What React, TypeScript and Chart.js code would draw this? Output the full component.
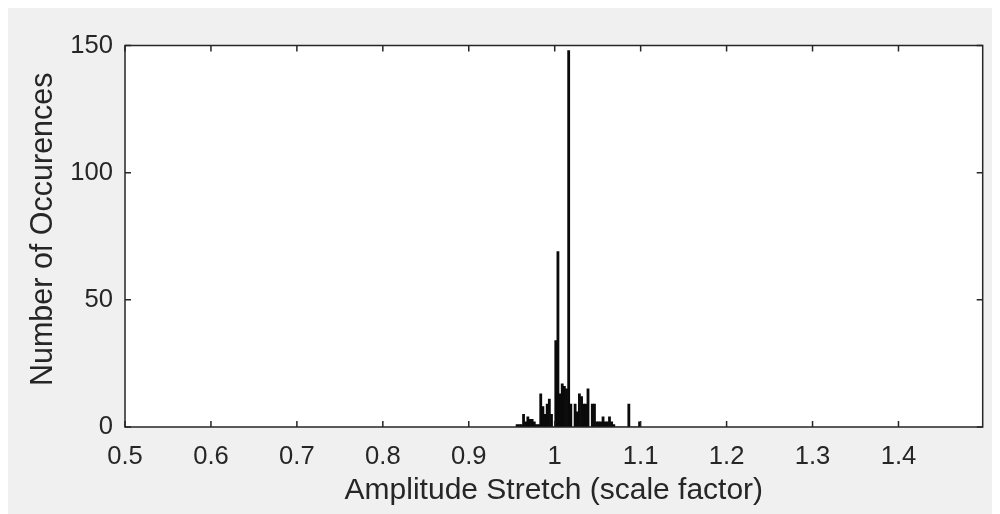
import React, { useEffect, useRef } from "react";
import { Chart, registerables } from "chart.js";

Chart.register(...registerables);

// Histogram bin left edges (bin width 0.0025)
const BIN_EDGES: number[] = [
  0.955, 0.9575, 0.96, 0.9625, 0.965, 0.9675, 0.97, 0.9725, 0.975, 0.9775,
  0.98, 0.9825, 0.985, 0.9875, 0.99, 0.9925, 0.995, 0.9975, 1.0, 1.0025,
  1.005, 1.0075, 1.01, 1.0125, 1.015, 1.0175, 1.02, 1.0225, 1.025, 1.0275,
  1.03, 1.0325, 1.035, 1.0375, 1.04, 1.0425, 1.045, 1.0475, 1.05, 1.0525,
  1.055, 1.0575, 1.06, 1.0625, 1.065, 1.0675, 1.07, 1.0725, 1.075, 1.0775,
  1.08, 1.0825, 1.085, 1.0875, 1.09, 1.0925, 1.095, 1.0975,
];
const BIN_WIDTH = 0.0025;

// Number of occurrences per bin
const COUNTS: number[] = [
  1, 1, 1, 5, 2, 4, 3, 3, 2, 1,
  1, 13, 8, 5, 9, 11, 5, 0, 34, 69,
  13, 17, 16, 15, 148, 9, 0, 9, 6, 13,
  12, 9, 9, 15, 0, 9, 9, 2, 2, 2,
  4, 2, 2, 4, 2, 1, 0, 0, 0, 0,
  0, 0, 9, 0, 0, 0, 0, 2,
];

const X_TICKS: number[] = [0.5, 0.6, 0.7, 0.8, 0.9, 1.0, 1.1, 1.2, 1.3, 1.4];
const Y_TICKS: number[] = [0, 50, 100, 150];
const X_MIN = 0.5;
const X_MAX = 1.498;
const Y_MIN = 0;
const Y_MAX = 150;

const X_TITLE = "Amplitude Stretch (scale factor)";
const Y_TITLE = "Number of Occurences";

const FONT_FAMILY = "'Liberation Sans', Arial, Helvetica, sans-serif";
const INK = "#262626";
const Y_TITLE_SIZE = 30.5;
const X_TITLE_SIZE = 30;

const framePlugin = {
  id: "matlabFrame",
  beforeDraw(chart: any) {
    const { ctx, chartArea } = chart;
    ctx.save();
    ctx.fillStyle = "#ffffff";
    ctx.fillRect(
      chartArea.left,
      chartArea.top,
      chartArea.right - chartArea.left,
      chartArea.bottom - chartArea.top
    );
    ctx.restore();
  },
  afterDatasetsDraw(chart: any) {
    const { ctx, chartArea } = chart;
    const { left, top, right, bottom } = chartArea;
    const xs = chart.scales.x;
    const ys = chart.scales.y;
    const tl = 6;
    ctx.save();
    ctx.strokeStyle = INK;
    ctx.lineWidth = 1.5;
    ctx.beginPath();
    for (const t of xs.ticks) {
      const px = xs.getPixelForValue(t.value);
      ctx.moveTo(px, bottom);
      ctx.lineTo(px, bottom - tl);
      ctx.moveTo(px, top);
      ctx.lineTo(px, top + tl);
    }
    for (const t of ys.ticks) {
      const py = ys.getPixelForValue(t.value);
      ctx.moveTo(left, py);
      ctx.lineTo(left + tl, py);
      ctx.moveTo(right, py);
      ctx.lineTo(right - tl, py);
    }
    ctx.stroke();
    ctx.strokeRect(left, top, right - left, bottom - top);

    // y-axis title (rotated)
    ctx.fillStyle = INK;
    ctx.font = `${Y_TITLE_SIZE}px ${FONT_FAMILY}`;
    ctx.textAlign = "center";
    ctx.textBaseline = "alphabetic";
    ctx.translate(44, (top + bottom) / 2 - 7);
    ctx.rotate(-Math.PI / 2);
    ctx.fillText(Y_TITLE, 0, 0);
    ctx.restore();
  },
};

export default function App() {
  const canvasRef = useRef<HTMLCanvasElement | null>(null);

  useEffect(() => {
    if (!canvasRef.current) return;
    const data = BIN_EDGES.map((e, i) => ({ x: e + BIN_WIDTH / 2, y: COUNTS[i] }));
    const chart = new Chart(canvasRef.current, {
      type: "bar",
      data: {
        datasets: [
          {
            data,
            backgroundColor: "#0a0a0a",
            borderWidth: 0,
            barPercentage: 1,
            categoryPercentage: 1,
          } as any,
        ],
      },
      options: {
        animation: false,
        responsive: false,
        events: [],
        layout: { padding: { top: 37.5, right: 17.3, left: 0, bottom: 0 } },
        plugins: {
          legend: { display: false },
          tooltip: { enabled: false },
        },
        scales: {
          x: {
            type: "linear",
            min: X_MIN,
            max: X_MAX,
            offset: false,
            afterFit(scale: any) {
              scale.height = 87;
            },
            afterBuildTicks(scale: any) {
              scale.ticks = X_TICKS.map((v) => ({ value: v }));
            },
            grid: { display: false, drawTicks: false },
            border: { display: false },
            ticks: {
              padding: 15,
              color: INK,
              font: { family: FONT_FAMILY, size: 25.6 },
              maxRotation: 0,
              autoSkip: false,
              callback: (v: any) => String(Number(Number(v).toFixed(2))),
            },
            title: {
              display: true,
              text: X_TITLE,
              color: INK,
              font: { family: FONT_FAMILY, size: X_TITLE_SIZE },
              padding: { top: 0, bottom: 5 },
            },
          },
          y: {
            min: Y_MIN,
            max: Y_MAX,
            afterFit(scale: any) {
              scale.width = 117;
            },
            afterBuildTicks(scale: any) {
              scale.ticks = Y_TICKS.map((v) => ({ value: v }));
            },
            grid: { display: false, drawTicks: false },
            border: { display: false },
            ticks: {
              padding: 12,
              color: INK,
              font: { family: FONT_FAMILY, size: 25.6 },
            },
            title: { display: false },
          },
        },
      },
      plugins: [framePlugin],
    });
    return () => chart.destroy();
  }, []);

  return (
    <div style={{ width: 992, height: 506, background: "#f0f0f0" }}>
      <canvas
        ref={canvasRef}
        width={992}
        height={506}
        style={{ display: "block", width: 992, height: 506 }}
      />
    </div>
  );
}
